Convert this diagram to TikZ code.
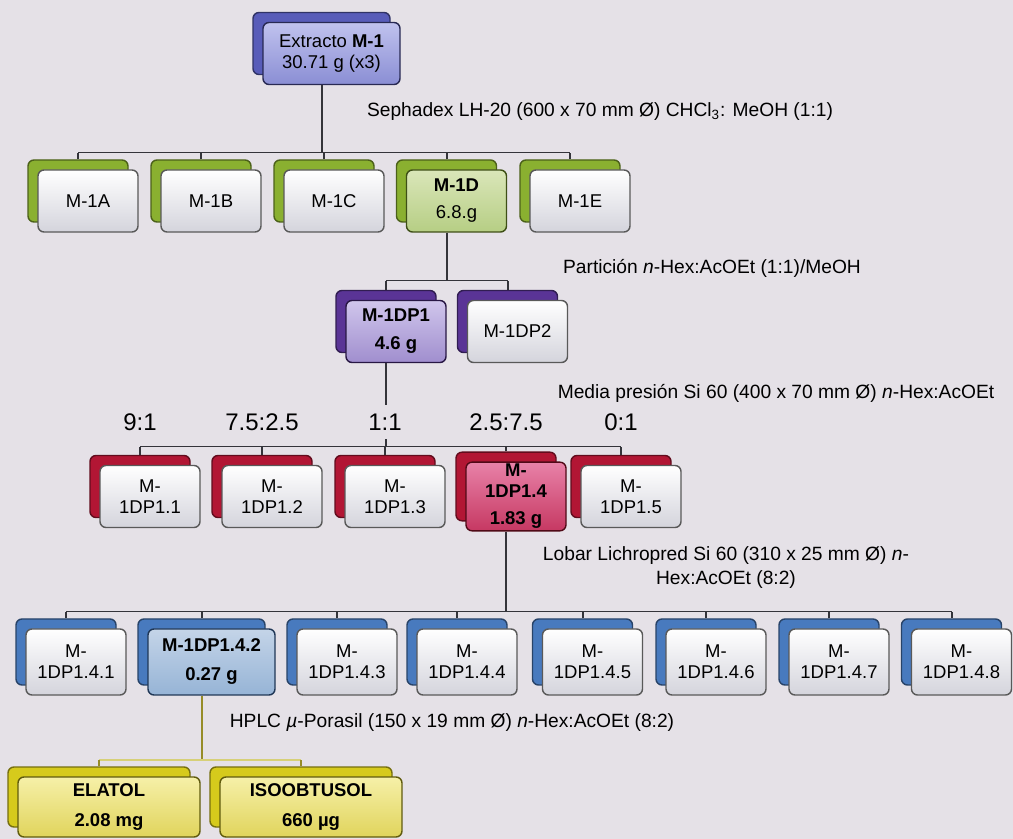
\documentclass[tikz,border=0pt]{standalone}
\usepackage{fontspec}
\setmainfont{Liberation Sans}
\usetikzlibrary{shadows}
\definecolor{bgcol}{RGB}{229,225,231}
\definecolor{plainbot}{RGB}{212,212,220}
\definecolor{violback}{RGB}{88,92,185}
\definecolor{violtop}{RGB}{192,194,238}
\definecolor{violbot}{RGB}{138,142,212}
\definecolor{greenback}{RGB}{138,176,48}
\definecolor{greentop}{RGB}{218,230,185}
\definecolor{greenbot}{RGB}{182,206,132}
\definecolor{purpback}{RGB}{90,52,150}
\definecolor{purptop}{RGB}{208,198,236}
\definecolor{purpbot}{RGB}{160,142,206}
\definecolor{redback}{RGB}{178,22,52}
\definecolor{redtop}{RGB}{232,130,168}
\definecolor{redbot}{RGB}{198,56,98}
\definecolor{blueback}{RGB}{72,122,190}
\definecolor{bluetop}{RGB}{196,212,232}
\definecolor{bluebot}{RGB}{150,180,214}
\definecolor{yelback}{RGB}{214,202,28}
\definecolor{yeltop}{RGB}{246,240,168}
\definecolor{yelbot}{RGB}{224,212,92}
\definecolor{linecol}{RGB}{52,52,58}
\definecolor{yelline}{RGB}{150,140,40}
\definecolor{yelbus}{RGB}{215,208,120}

\tikzset{
  frac/.style={rectangle, rounded corners=3pt, draw=black!65, line width=0.7pt, align=center,
    font=\fontsize{9.25}{10.5}\selectfont, inner sep=1pt, minimum width=50pt, minimum height=31pt,
    top color=white, bottom color=plainbot},
  stack/.style={copy shadow={shadow xshift=-5pt, shadow yshift=5pt, fill=#1back, draw=#1back!55!black, line width=0.7pt}},
  hi/.style={top color=#1top, bottom color=#1bot, draw=#1back!45!black, font=\fontsize{9.25}{10.5}\selectfont\bfseries},
  trunk/.style={draw=linecol, line width=1pt},
  bus/.style={draw=linecol, line width=0.5pt},
  note/.style={font=\fontsize{9.6}{12}\selectfont, inner sep=0pt, align=center},
  ratio/.style={font=\fontsize{12}{14}\selectfont, fill=bgcol, inner xsep=1pt, inner ysep=4.5pt}
}

\begin{document}
\begin{tikzpicture}[x=0.5pt, y=-0.5pt]
    % background
    \useasboundingbox (0,0) rectangle (1013,839);
    \fill[bgcol] (0,0) rectangle (1013,839);

    % extract
    \node[frac, stack=viol, hi=viol, font=\fontsize{9.25}{10.5}\selectfont, minimum width=68.5pt] (m1) at (331.5,53.5) {Extracto \textbf{M-1}\\30.71 g (x3)};

    % Sephadex fractions
    \node[frac, stack=green] (m1a) at (88,201) {M-1A};
    \node[frac, stack=green] (m1b) at (211,201) {M-1B};
    \node[frac, stack=green] (m1c) at (334,201) {M-1C};
    \node[frac, stack=green, hi=green] (m1d) at (456.5,201) {M-1D\\[3pt]\mdseries 6.8.g};
    \node[frac, stack=green] (m1e) at (580,201) {M-1E};

    % partition
    \node[frac, stack=purp, hi=purp] (dp1) at (396,331.5) {M-1DP1\\[3.5pt]4.6 g};
    \node[frac, stack=purp] (dp2) at (517.5,331.5) {M-1DP2};

    % medium pressure
    \node[frac, stack=red] (p1) at (150,496.5) {M-\\1DP1.1};
    \node[frac, stack=red] (p2) at (272,496.5) {M-\\1DP1.2};
    \node[frac, stack=red] (p3) at (395,496.5) {M-\\1DP1.3};
    \node[frac, stack=red, hi=red] (p4) at (516,496.5) {M-\\1DP1.4\\[3pt]1.83 g};
    \node[frac, stack=red] (p5) at (631,496.5) {M-\\1DP1.5};

    % Lobar
    \node[frac, stack=blue, minimum height=33pt] (q1) at (76,662) {M-\\1DP1.4.1};
    \node[frac, stack=blue, hi=blue, minimum height=33pt, minimum width=63.5pt] (q2) at (211.5,662) {M-1DP1.4.2\\[4pt]0.27 g};
    \node[frac, stack=blue, minimum height=33pt] (q3) at (347,662) {M-\\1DP1.4.3};
    \node[frac, stack=blue, minimum height=33pt] (q4) at (467,662) {M-\\1DP1.4.4};
    \node[frac, stack=blue, minimum height=33pt] (q5) at (592.5,662) {M-\\1DP1.4.5};
    \node[frac, stack=blue, minimum height=33pt] (q6) at (716,662) {M-\\1DP1.4.6};
    \node[frac, stack=blue, minimum height=33pt] (q7) at (839,662) {M-\\1DP1.4.7};
    \node[frac, stack=blue, minimum height=33pt] (q8) at (961.5,662) {M-\\1DP1.4.8};

    % HPLC
    \node[frac, stack=yel, hi=yel, minimum width=91pt, minimum height=30pt] (elatol) at (109,807) {ELATOL\\[4pt]2.08 mg};
    \node[frac, stack=yel, hi=yel, minimum width=91pt, minimum height=30pt] (isoob) at (311,807) {ISOOBTUSOL\\[4pt]660 µg};

    % labels
    \node[note] (sepha) at (600,112) {Sephadex LH-20 (600 x 70 mm Ø) CHCl\textsubscript{3}: MeOH (1:1)};
    \node[note] (parti) at (712,268) {Partición \textit{n}-Hex:AcOEt (1:1)/MeOH};
    \node[note] (media) at (776,393) {Media presión Si 60 (400 x 70 mm Ø) \textit{n}-Hex:AcOEt};
    \node[note] (lobar) at (726,568) {Lobar Lichropred Si 60 (310 x 25 mm Ø) \textit{n}-\\Hex:AcOEt (8:2)};
    \node[note] (hplc) at (452,723) {HPLC \textit{µ}-Porasil (150 x 19 mm Ø) \textit{n}-Hex:AcOEt (8:2)};

    % connectors
    \coordinate (bus1) at (0,153);
    \coordinate (bus2) at (0,281);
    \coordinate (bus3) at (0,447);
    \coordinate (bus4) at (0,612);
    \coordinate (bus5) at (0,760);
    \draw[trunk] ([xshift=-5pt]m1.south) -- ([xshift=-5pt]m1.south |- bus1);
    \draw[bus] ([xshift=-5pt]m1a.north |- bus1) -- ([xshift=-5pt]m1e.north |- bus1);
    \foreach \n in {m1a,m1b,m1c,m1d,m1e}
      \draw[trunk] ([shift={(-5pt,5pt)}]\n.north) -- ([xshift=-5pt]\n.north |- bus1);

    \draw[trunk] ([xshift=-5pt]m1d.south) -- ([xshift=-5pt]m1d.south |- bus2);
    \draw[bus] ([xshift=-5pt]dp1.north |- bus2) -- ([xshift=-5pt]dp2.north |- bus2);
    \foreach \n in {dp1,dp2}
      \draw[trunk] ([shift={(-5pt,5pt)}]\n.north) -- ([xshift=-5pt]\n.north |- bus2);

    \draw[trunk] ([xshift=-5pt]dp1.south) -- ([xshift=-5pt]dp1.south |- bus3);
    \draw[bus] ([xshift=-5pt]p1.north |- bus3) -- ([xshift=-5pt]p5.north |- bus3);
    \foreach \n in {p1,p2,p3,p4,p5}
      \draw[trunk] ([shift={(-5pt,5pt)}]\n.north) -- ([xshift=-5pt]\n.north |- bus3);

    \draw[trunk] ([xshift=-5pt]p4.south) -- ([xshift=-5pt]p4.south |- bus4);
    \draw[bus] ([xshift=-5pt]q1.north |- bus4) -- ([xshift=-5pt]q8.north |- bus4);
    \foreach \n in {q1,q2,q3,q4,q5,q6,q7,q8}
      \draw[trunk] ([shift={(-5pt,5pt)}]\n.north) -- ([xshift=-5pt]\n.north |- bus4);

    \draw[trunk, draw=yelline] ([xshift=-5pt]q2.south) -- ([xshift=-5pt]q2.south |- bus5);
    \draw[bus, draw=yelbus, line width=1pt] ([xshift=-5pt]elatol.north |- bus5) -- ([xshift=-5pt]isoob.north |- bus5);
    \foreach \n in {elatol,isoob}
      \draw[trunk, draw=yelline] ([shift={(-5pt,5pt)}]\n.north) -- ([xshift=-5pt]\n.north |- bus5);

    % ratios
    \node[ratio] (r1) at ([xshift=-5pt]p1.north |- 0,422) {9:1};
    \node[ratio] (r2) at ([xshift=-5pt]p2.north |- 0,422) {7.5:2.5};
    \node[ratio] (r3) at ([xshift=-5pt]p3.north |- 0,422) {1:1};
    \node[ratio] (r4) at ([xshift=-5pt]p4.north |- 0,422) {2.5:7.5};
    \node[ratio] (r5) at ([xshift=-5pt]p5.north |- 0,422) {0:1};
\end{tikzpicture}
\end{document}
